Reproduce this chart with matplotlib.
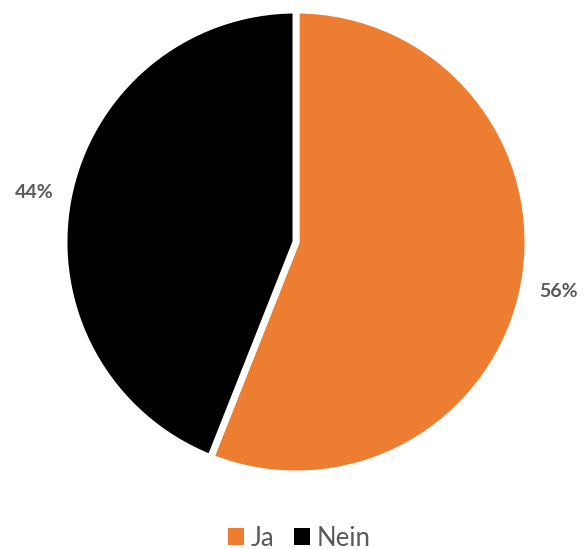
import matplotlib
matplotlib.use("Agg")
import matplotlib.pyplot as plt
from matplotlib.patches import Patch

labels = ["Ja", "Nein"]
values = [56, 44]
colors = ["#ED7D31", "#000000"]

fig = plt.figure(figsize=(5.87, 5.49), dpi=100)
R = 232
cx, cy = 296, 242
ax = fig.add_axes([(cx - R) / 587, (549 - cy - R) / 549, 2 * R / 587, 2 * R / 549])
wedges, texts, autotexts = ax.pie(
    values, colors=colors, startangle=90, counterclock=False,
    autopct=lambda p: f"{p:.0f}%", pctdistance=1.15,
    wedgeprops=dict(edgecolor="white", linewidth=5),
    textprops=dict(color="#595959", fontsize=14, fontweight="bold", family="Lato"),
)
ax.set_xlim(-1, 1)
ax.set_ylim(-1, 1)
ax.set_aspect("auto")
ax.axis("off")

handles = [Patch(facecolor=c, edgecolor="none") for c in colors]
fig.legend(handles, labels, loc="center", bbox_to_anchor=(0.51, 1 - 538 / 549),
           ncol=2, frameon=False, handlelength=0.6, handleheight=0.6,
           handletextpad=0.25, columnspacing=0.8,
           prop=dict(family="Lato", size=18.5), labelcolor="#595959")

fig.savefig("out.png", dpi=100)
